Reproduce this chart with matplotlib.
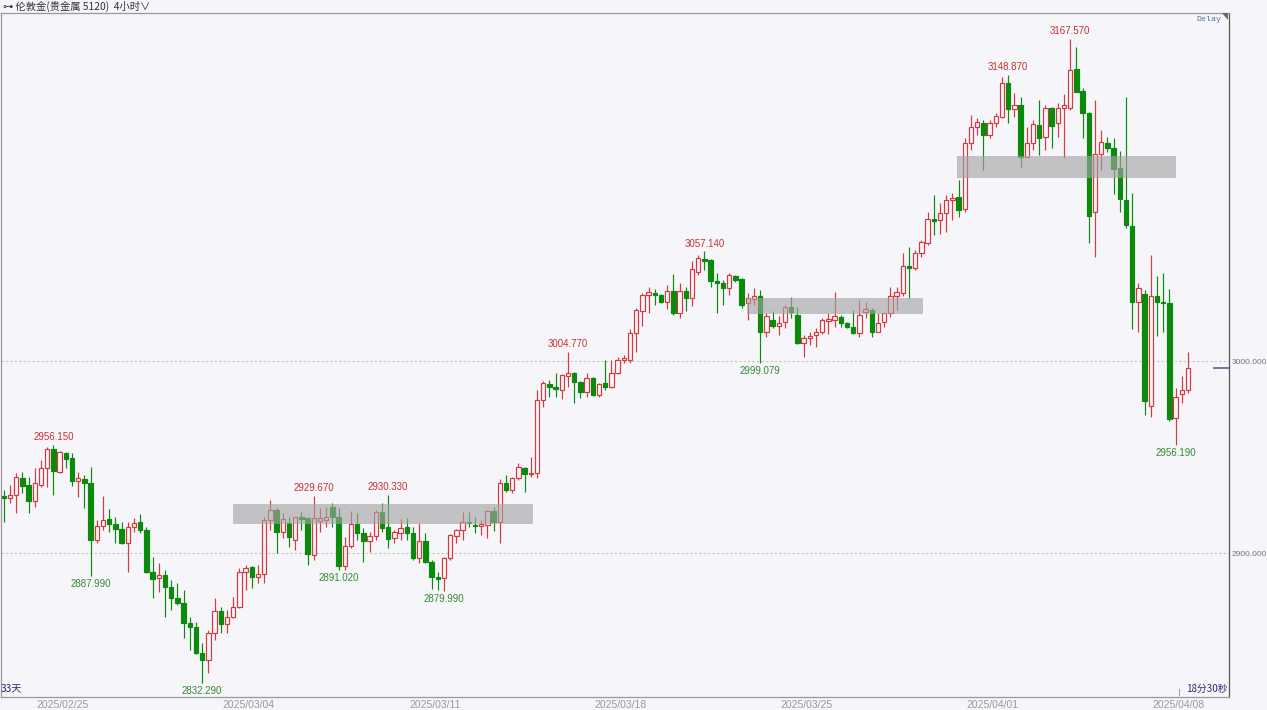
#!/usr/bin/env python3
"""
4-hour candlestick chart of London gold (伦敦金), late Feb to early Apr 2025,
with the marked swing highs / lows and three grey support / resistance zones.
Values were read off a screenshot, so they are approximate.
"""

import matplotlib

matplotlib.use("Agg")
import matplotlib.pyplot as plt
import matplotlib.transforms as mtransforms
from matplotlib.patches import Polygon, Rectangle
from matplotlib.ticker import FormatStrFormatter


# one row per 4h candle: open, high, low, close
OPEN = [
    2929.7, 2928.5, 2930.2, 2939.2, 2935.4, 2927.3, 2935.4, 2944.1, 2954.0, 2942.4,
    2951.9, 2949.3, 2937.5, 2938.4, 2936.6, 2906.8, 2914.1, 2917.5, 2915.1, 2912.3,
    2905.0, 2913.4, 2916.3, 2912.0, 2890.3, 2886.8, 2888.6, 2882.5, 2876.4, 2874.1,
    2863.7, 2861.6, 2847.7, 2844.3, 2858.5, 2869.9, 2863.0, 2866.8, 2872.1, 2890.3,
    2892.9, 2887.3, 2889.1, 2917.2, 2922.4, 2911.1, 2915.5, 2906.8, 2918.6, 2918.1,
    2899.0, 2916.8, 2917.2, 2923.8, 2918.9, 2893.2, 2903.6, 2915.1, 2910.6, 2906.1,
    2908.9, 2921.2, 2913.7, 2907.6, 2910.2, 2913.4, 2910.2, 2897.2, 2906.4, 2895.5,
    2887.3, 2886.8, 2897.2, 2908.9, 2912.0, 2916.3, 2914.6, 2914.1, 2914.6, 2922.1,
    2916.3, 2936.3, 2932.8, 2938.9, 2944.1, 2941.1, 2941.7, 2979.7, 2988.0, 2986.6,
    2984.9, 2992.2, 2993.6, 2989.2, 2984.0, 2991.0, 2982.3, 2988.4, 2986.6, 2993.9,
    3000.5, 3000.5, 3014.4, 3026.2, 3034.4, 3035.6, 3034.4, 3030.9, 3036.5, 3024.8,
    3036.6, 3032.7, 3046.5, 3053.0, 3052.6, 3041.8, 3040.8, 3037.9, 3044.4, 3042.7,
    3030.1, 3032.1, 3033.9, 3015.3, 3021.4, 3018.2, 3020.3, 3028.3, 3024.0, 3009.2,
    3011.8, 3013.5, 3015.3, 3021.0, 3021.4, 3023.1, 3019.9, 3017.9, 3014.7, 3025.7,
    3026.6, 3015.3, 3020.3, 3024.8, 3033.9, 3035.6, 3049.5, 3048.3, 3056.4, 3061.6,
    3073.8, 3073.4, 3077.2, 3083.9, 3085.6, 3079.0, 3113.7, 3122.0, 3124.1, 3117.7,
    3123.8, 3127.2, 3144.6, 3131.1, 3133.3, 3106.4, 3113.7, 3122.9, 3116.5, 3131.6,
    3123.8, 3131.6, 3131.6, 3151.9, 3140.8, 3129.0, 3077.8, 3107.8, 3113.7, 3110.8,
    3100.4, 3083.9, 3070.5, 3030.9, 3034.9, 2976.6, 3033.9, 3030.9, 3030.4, 2970.2,
    2982.8, 2984.9,
]
HIGH = [
    2932.8, 2935.4, 2941.5, 2942.4, 2939.8, 2944.1, 2948.4, 2955.0, 2956.15, 2953.3,
    2952.8, 2951.9, 2942.4, 2940.6, 2944.6, 2917.2, 2929.7, 2922.7, 2918.9, 2916.3,
    2916.3, 2918.1, 2920.3, 2913.7, 2898.1, 2894.6, 2891.2, 2885.9, 2884.2, 2880.7,
    2866.8, 2864.2, 2853.0, 2859.9, 2876.4, 2872.0, 2870.3, 2877.3, 2892.0, 2893.8,
    2893.2, 2893.8, 2918.9, 2927.6, 2923.3, 2920.7, 2918.6, 2918.9, 2921.5, 2918.9,
    2929.67, 2923.3, 2924.1, 2925.9, 2923.3, 2908.5, 2922.1, 2920.7, 2912.8, 2911.1,
    2922.4, 2925.9, 2930.33, 2912.0, 2917.5, 2918.1, 2913.7, 2915.5, 2910.2, 2896.4,
    2890.3, 2898.1, 2909.9, 2912.3, 2921.5, 2921.5, 2918.9, 2917.2, 2922.4, 2923.8,
    2938.4, 2940.6, 2939.8, 2946.7, 2945.0, 2950.0, 2984.9, 2989.7, 2990.1, 2993.6,
    2993.2, 3004.77, 2994.4, 2989.7, 2993.6, 2991.8, 2988.7, 3000.5, 3000.5, 3001.9,
    3003.1, 3016.5, 3027.4, 3035.6, 3038.4, 3037.3, 3034.9, 3039.6, 3045.3, 3040.8,
    3038.4, 3052.2, 3055.2, 3057.14, 3053.0, 3046.0, 3042.2, 3045.7, 3044.8, 3043.1,
    3035.3, 3037.9, 3037.0, 3025.2, 3026.2, 3023.4, 3029.2, 3033.2, 3028.3, 3013.5,
    3015.3, 3017.0, 3022.2, 3025.2, 3036.1, 3024.0, 3020.4, 3026.6, 3031.8, 3030.9,
    3027.4, 3025.2, 3025.2, 3038.4, 3038.4, 3056.1, 3059.5, 3057.8, 3063.0, 3077.8,
    3086.5, 3082.1, 3086.5, 3087.5, 3094.3, 3116.0, 3128.1, 3126.4, 3125.5, 3125.5,
    3129.0, 3148.1, 3148.87, 3139.4, 3137.7, 3122.0, 3125.5, 3135.9, 3133.3, 3132.1,
    3134.5, 3139.1, 3167.57, 3163.4, 3142.0, 3129.8, 3135.9, 3120.3, 3116.5, 3116.0,
    3109.5, 3137.3, 3087.7, 3040.8, 3037.0, 3055.2, 3044.3, 3045.7, 3037.3, 2985.8,
    2992.2, 3004.8,
]
LOW = [
    2916.3, 2926.2, 2920.7, 2931.1, 2920.7, 2923.8, 2934.6, 2934.6, 2930.2, 2941.5,
    2944.1, 2934.9, 2929.0, 2923.3, 2887.99, 2905.0, 2912.0, 2911.1, 2905.0, 2904.5,
    2890.3, 2911.1, 2910.2, 2889.4, 2876.4, 2879.9, 2866.8, 2870.3, 2872.9, 2855.6,
    2849.5, 2847.2, 2832.29, 2837.3, 2854.7, 2858.2, 2858.2, 2866.0, 2871.2, 2880.7,
    2881.6, 2884.2, 2884.2, 2912.0, 2899.8, 2907.6, 2903.3, 2901.6, 2912.0, 2893.8,
    2896.4, 2911.1, 2913.7, 2913.7, 2891.02, 2891.2, 2902.4, 2906.8, 2895.5, 2900.7,
    2906.8, 2911.1, 2902.4, 2905.0, 2906.8, 2906.8, 2896.4, 2894.6, 2894.6, 2881.5,
    2880.7, 2879.99, 2896.4, 2905.0, 2906.8, 2913.7, 2910.2, 2909.4, 2907.6, 2911.3,
    2905.4, 2931.9, 2931.1, 2938.0, 2931.9, 2939.8, 2939.1, 2976.2, 2981.4, 2981.4,
    2980.1, 2986.6, 2978.0, 2980.6, 2981.4, 2981.8, 2981.4, 2984.9, 2985.8, 2993.2,
    2998.8, 2999.1, 3004.8, 3018.2, 3025.2, 3029.2, 3030.4, 3026.9, 3024.0, 3022.2,
    3026.0, 3028.6, 3044.8, 3047.4, 3038.7, 3025.2, 3029.2, 3034.4, 3041.3, 3027.4,
    3021.4, 3029.2, 2999.079, 3012.7, 3017.0, 3013.5, 3017.0, 3022.2, 3008.8, 3001.9,
    3008.3, 3007.4, 3014.1, 3014.1, 3017.9, 3017.6, 3017.0, 3014.1, 3012.7, 3022.2,
    3012.3, 3015.0, 3017.9, 3023.1, 3026.6, 3033.9, 3032.7, 3047.4, 3054.3, 3060.4,
    3065.6, 3066.1, 3067.3, 3073.4, 3075.0, 3077.8, 3109.9, 3117.7, 3099.5, 3116.0,
    3122.0, 3126.4, 3124.1, 3127.2, 3101.2, 3106.0, 3109.9, 3107.3, 3109.9, 3110.8,
    3116.8, 3105.6, 3130.7, 3140.0, 3116.0, 3061.6, 3054.0, 3099.5, 3109.0, 3087.0,
    3077.8, 3069.1, 3016.5, 3015.3, 2971.9, 2971.0, 3013.0, 3015.3, 2969.0, 2956.19,
    2978.0, 2983.5,
]
CLOSE = [
    2928.8, 2930.2, 2939.4, 2935.1, 2927.3, 2936.3, 2944.1, 2954.0, 2942.9, 2952.8,
    2948.8, 2937.5, 2938.9, 2936.6, 2906.8, 2914.1, 2917.2, 2915.1, 2912.3, 2905.0,
    2913.4, 2915.5, 2912.0, 2890.3, 2886.5, 2888.6, 2882.5, 2876.4, 2873.8, 2863.7,
    2861.3, 2847.7, 2844.3, 2858.2, 2869.9, 2863.0, 2866.8, 2872.1, 2890.3, 2892.0,
    2887.7, 2889.1, 2917.2, 2922.4, 2911.1, 2917.5, 2908.2, 2918.6, 2917.9, 2899.5,
    2918.1, 2918.1, 2918.6, 2918.6, 2893.2, 2903.6, 2915.1, 2910.6, 2906.4, 2908.9,
    2921.2, 2912.8, 2907.1, 2911.1, 2912.8, 2910.2, 2897.2, 2906.4, 2895.5, 2887.7,
    2886.6, 2897.2, 2909.4, 2912.0, 2916.3, 2915.8, 2914.1, 2914.9, 2922.1, 2916.3,
    2936.3, 2932.8, 2938.9, 2944.6, 2941.1, 2941.8, 2979.7, 2988.5, 2986.5, 2985.3,
    2992.7, 2993.6, 2989.2, 2984.0, 2991.0, 2982.3, 2987.9, 2986.6, 2993.9, 3000.5,
    3001.4, 3014.4, 3026.6, 3034.4, 3036.1, 3034.4, 3030.9, 3036.5, 3024.8, 3036.6,
    3032.7, 3047.8, 3053.5, 3052.2, 3041.8, 3040.8, 3037.9, 3044.8, 3042.2, 3029.2,
    3032.7, 3033.9, 3015.3, 3023.4, 3018.2, 3019.6, 3028.3, 3025.7, 3009.2, 3011.8,
    3013.2, 3015.3, 3021.4, 3021.7, 3023.4, 3019.9, 3017.9, 3014.7, 3024.0, 3026.9,
    3015.3, 3019.6, 3024.8, 3033.9, 3036.1, 3049.5, 3048.6, 3056.4, 3062.1, 3073.8,
    3073.1, 3077.2, 3083.9, 3085.1, 3078.6, 3113.7, 3122.0, 3124.6, 3117.7, 3123.8,
    3127.6, 3145.0, 3131.1, 3133.3, 3106.4, 3113.7, 3123.4, 3116.0, 3131.6, 3122.4,
    3131.6, 3133.3, 3151.6, 3140.3, 3129.0, 3075.5, 3107.8, 3114.2, 3110.8, 3099.8,
    3084.2, 3070.8, 3030.9, 3037.9, 2979.3, 3033.9, 3030.9, 3030.4, 2969.6, 2981.4,
    2984.9, 2996.2,
]

DATE_LABELS = ["2025/02/25", "2025/03/04", "2025/03/11", "2025/03/18",
               "2025/03/25", "2025/04/01", "2025/04/08"]
DATE_POS = [9.5, 39.5, 69.5, 99.5, 129.5, 159.5, 189.5]

PRICE_TICKS = [2900, 3000]

# swing points that carry a price label: candle index and which end
MARK_INDEX = [8, 14, 32, 50, 54, 62, 71, 91, 113, 122, 162, 172, 189]
MARK_SIDE = ["high", "low", "low", "high", "low", "high", "low",
             "high", "high", "low", "high", "high", "low"]

# grey zones, in candle index / price units
ZONE_START = [36.9, 119.9, 153.8]
ZONE_END = [85.3, 148.2, 189.1]
ZONE_LOW = [2915.1, 3024.5, 3095.3]
ZONE_HIGH = [2925.5, 3032.8, 3106.8]

BG = "#f5f5fa"
RED = "#d9363e"
GREEN = "#0b8a0b"
CJK = ["Noto Sans CJK SC", "DejaVu Sans"]


def draw_candles(ax):
    idx = list(range(len(OPEN)))
    up = [c >= o for o, c in zip(OPEN, CLOSE)]
    colors = [RED if u else GREEN for u in up]
    faces = [BG if u else GREEN for u in up]
    bottoms = [min(o, c) for o, c in zip(OPEN, CLOSE)]
    heights = [max(abs(c - o), 0.35) for o, c in zip(OPEN, CLOSE)]

    ax.vlines(idx, LOW, HIGH, colors=colors, linewidth=0.85, zorder=2)
    ax.bar(idx, heights, bottom=bottoms, width=0.72, color=faces,
           edgecolor=colors, linewidth=0.85, zorder=3)


def draw_marks(ax):
    for i, side in zip(MARK_INDEX, MARK_SIDE):
        if side == "high":
            ax.annotate(f"{HIGH[i]:.3f}", xy=(i, HIGH[i]), xytext=(0, 2),
                        textcoords="offset points", ha="center", va="bottom",
                        fontsize=7, family="Liberation Sans", color="#c83232", zorder=6)
        else:
            ax.annotate(f"{LOW[i]:.3f}", xy=(i, LOW[i]), xytext=(0, -2),
                        textcoords="offset points", ha="center", va="top",
                        fontsize=7, family="Liberation Sans", color="#348a34", zorder=6)


def draw_zones(ax):
    for x0, x1, lo, hi in zip(ZONE_START, ZONE_END, ZONE_LOW, ZONE_HIGH):
        ax.add_patch(Rectangle((x0, lo), x1 - x0, hi - lo, facecolor="#a4a4a4",
                               alpha=0.62, edgecolor="none", zorder=4))


def main():
    fig = plt.figure(figsize=(12.67, 7.10), dpi=100, facecolor=BG)
    ax = fig.add_axes([0.0004, 13 / 710, 1228 / 1267, 684 / 710], facecolor=BG)

    for p in PRICE_TICKS:
        ax.axhline(p, color="#c4c4c4", linewidth=0.8, linestyle=(0, (2, 2)), zorder=1)

    draw_candles(ax)
    draw_zones(ax)
    draw_marks(ax)

    # last price marker on the right edge
    ax.hlines(CLOSE[-1], 195.1, 197.6, color="#6a6a9c", linewidth=1.3, zorder=5)

    ax.set_xlim(-0.532, 197.53)
    ax.set_ylim(2825.0, 3181.25)

    ax.yaxis.tick_right()
    ax.set_yticks(PRICE_TICKS)
    ax.yaxis.set_major_formatter(FormatStrFormatter("%.3f"))
    ax.tick_params(axis="y", length=0, pad=2, labelsize=6, labelcolor="#777777")
    for lab in ax.get_yticklabels():
        lab.set_family("Liberation Sans")

    ax.set_xticks(DATE_POS)
    ax.set_xticklabels(DATE_LABELS, family="Liberation Sans")
    ax.tick_params(axis="x", length=0, pad=2.2, labelsize=7.5, labelcolor="#9a9a9a")

    for side, spine in ax.spines.items():
        spine.set_color("#555555" if side == "right" else "#999999")
        spine.set_linewidth(0.9)

    # tiny tick above the last date label
    trans = mtransforms.blended_transform_factory(ax.transData, ax.transAxes)
    ax.plot([DATE_POS[-1], DATE_POS[-1]], [0.003, 0.012], transform=trans,
            color="#999999", linewidth=0.7, zorder=5)

    ax.text(0.0005, 0.012, "33天", transform=ax.transAxes, ha="left", va="center",
            fontsize=7.3, family=CJK, color="#2a2a6a")
    ax.text(0.9995, 0.012, "18分30秒", transform=ax.transAxes, ha="right", va="center",
            fontsize=7, family=CJK, color="#2a2a6a")
    ax.text(0.9945, 0.990, "Delay", transform=ax.transAxes, ha="right", va="center",
            fontsize=6, family="Liberation Mono", color="#5070a0")

    # corner triangle in the top right of the plot
    fig.patches.append(Polygon(
        [(1222 / 1267, 1 - 13 / 710), (1228 / 1267, 1 - 13 / 710), (1228 / 1267, 1 - 20 / 710)],
        closed=True, transform=fig.transFigure, facecolor="#666666", edgecolor="none"))

    fig.text(3 / 1267, 1 - 6.5 / 710, "⊶ 伦敦金(贵金属 5120)  4小时∨", ha="left", va="center",
             fontsize=7.4, family=CJK, color="#333333")

    fig.savefig("out.png", dpi=100, facecolor=BG)
    plt.close(fig)


if __name__ == "__main__":
    main()
